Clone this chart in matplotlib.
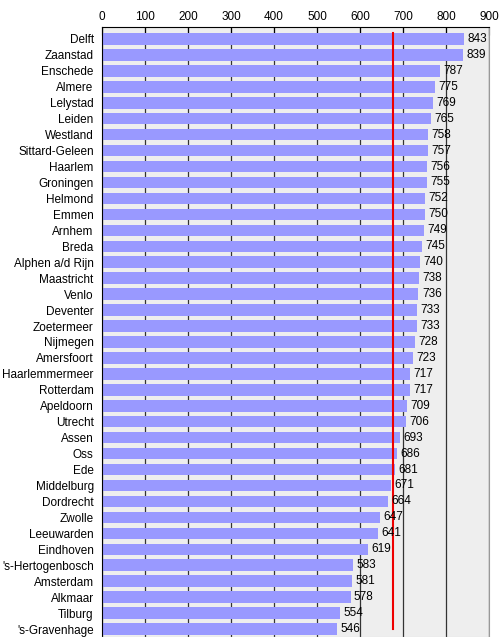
import matplotlib
matplotlib.use("Agg")
import matplotlib.pyplot as plt

# gemeenten en waarden (van boven naar beneden)
steden = ["Delft", "Zaanstad", "Enschede", "Almere", "Lelystad", "Leiden",
          "Westland", "Sittard-Geleen", "Haarlem", "Groningen", "Helmond",
          "Emmen", "Arnhem", "Breda", "Alphen a/d Rijn", "Maastricht", "Venlo",
          "Deventer", "Zoetermeer", "Nijmegen", "Amersfoort", "Haarlemmermeer",
          "Rotterdam", "Apeldoorn", "Utrecht", "Assen", "Oss", "Ede",
          "Middelburg", "Dordrecht", "Zwolle", "Leeuwarden", "Eindhoven",
          "'s-Hertogenbosch", "Amsterdam", "Alkmaar", "Tilburg", "'s-Gravenhage"]
waarden = [843, 839, 787, 775, 769, 765, 758, 757, 756, 755, 752, 750, 749,
           745, 740, 738, 736, 733, 733, 728, 723, 717, 717, 709, 706, 693,
           686, 681, 671, 664, 647, 641, 619, 583, 581, 578, 554, 546]
gemiddelde = 676
x_ticks = [0, 100, 200, 300, 400, 500, 600, 700, 800, 900]

plt.rcParams["font.family"] = ["Liberation Sans", "DejaVu Sans"]

fig = plt.figure(figsize=(5, 6.37), dpi=100)
ax = fig.add_axes([0.204, 0.0, 0.774, 0.9576])
ax.set_facecolor("#eeeeee")

posities = list(range(len(steden)))
ax.barh(posities, waarden, height=0.72, color="#9999ff", zorder=2)
ax.set_axisbelow(True)
ax.grid(axis="x", color="#333333", linewidth=0.9, zorder=1)

for p, w in zip(posities, waarden):
    ax.text(w + 8, p, str(w), va="center", ha="left", fontsize=8.5, zorder=4)

ax.plot([gemiddelde, gemiddelde], [-0.35, 37.0], color="#ee0000", linewidth=1.5, zorder=3)

ax.set_xlim(0, 900)
ax.set_ylim(37.5, -0.75)
ax.set_xticks(x_ticks)
ax.set_yticks(posities)
ax.set_yticklabels(steden, fontsize=8.5)
ax.xaxis.tick_top()
ax.tick_params(axis="x", direction="in", length=6, labelsize=8.5, pad=3)
ax.tick_params(axis="y", length=0, pad=6)

ax.spines["left"].set_color("black")
ax.spines["top"].set_color("black")
ax.spines["right"].set_color("#999999")
ax.spines["bottom"].set_color("#cccccc")

fig.savefig("out.png", dpi=100)
